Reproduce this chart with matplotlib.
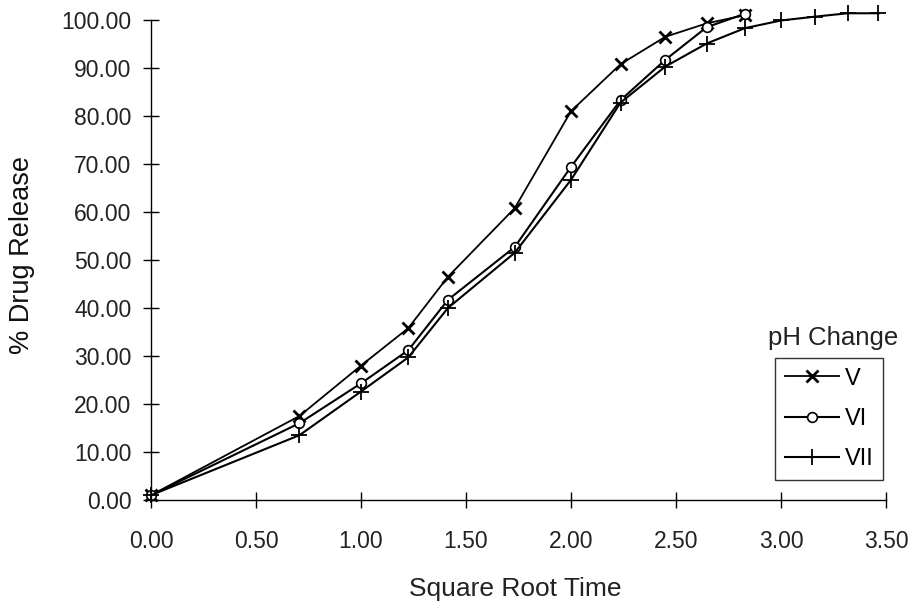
import numpy as np
import matplotlib
matplotlib.use('Agg')
import matplotlib.pyplot as plt

plt.rcParams['font.family'] = ['Liberation Sans', 'DejaVu Sans']

# square root of sampling time (h)
sqrt_t = [0.0, 0.707, 1.0, 1.225, 1.414, 1.732, 2.0, 2.236, 2.449, 2.646, 2.828,
          3.0, 3.162, 3.317, 3.464]

release_v = [1.0, 17.5, 28.0, 35.8, 46.5, 60.8, 81.0, 90.8, 96.5, 99.3, 101.0]
release_vi = [1.0, 16.0, 24.3, 31.2, 41.7, 52.7, 69.4, 83.3, 91.7, 98.5, 101.3]
release_vii = [1.0, 13.5, 22.6, 29.7, 40.0, 51.5, 66.7, 82.8, 90.3, 95.1, 98.3,
               99.9, 100.7, 101.4, 101.4]

series_names = ['V', 'VI', 'VII']
yticks = np.arange(0, 101, 10)
xticks = np.arange(0, 3.51, 0.5)

fig = plt.figure(figsize=(9.13, 6.07), dpi=100)
ax = fig.add_axes([151 / 913, 1 - 500 / 607, 735 / 913, 480 / 607])

ax.plot(sqrt_t[:len(release_v)], release_v, color='black', lw=1.3, marker='x',
        ms=9, mew=2, label=series_names[0], clip_on=False)
ax.plot(sqrt_t[:len(release_vi)], release_vi, color='black', lw=1.5, marker='o',
        ms=7, mfc='white', mew=1.2, label=series_names[1], clip_on=False)
ax.plot(sqrt_t, release_vii, color='black', lw=1.5, marker='+', ms=11, mew=1.3,
        label=series_names[2], clip_on=False)

ax.set_xlim(0, 3.5)
ax.set_ylim(0, 100)
ax.set_xticks(xticks)
ax.set_xticklabels([f'{v:.2f}' for v in xticks])
ax.set_yticks(yticks)
ax.set_yticklabels([f'{v:.2f}' for v in yticks])
ax.tick_params(direction='inout', length=12, width=1.0, labelsize=16.5,
               labelcolor='#222222')
ax.tick_params(axis='y', pad=8)
ax.tick_params(axis='x', length=11, pad=16)

for side in ['top', 'right']:
    ax.spines[side].set_visible(False)
for side in ['left', 'bottom']:
    ax.spines[side].set_linewidth(1.0)

ax.set_xlabel('Square Root Time', fontsize=19, color='#222222')
ax.set_ylabel('% Drug Release', fontsize=19.5, color='#111111')
ax.yaxis.set_label_coords(-0.175, 0.51)
ax.xaxis.set_label_coords(0.495, -0.185)
ax.xaxis.label.set_va('center')
ax.yaxis.label.set_va('center')

leg = ax.legend(loc='lower right', bbox_to_anchor=(0.996, 0.042), frameon=True,
                fancybox=False, edgecolor='black', fontsize=17,
                labelspacing=0.78, handlelength=2.3, handletextpad=0.25,
                borderpad=0.4, borderaxespad=0)
leg.get_frame().set_linewidth(1.0)
ax.text(0.928, 0.338, 'pH Change', transform=ax.transAxes, ha='center',
        va='center', fontsize=18.5, color='#222222')

fig.savefig('out.png', dpi=100)
